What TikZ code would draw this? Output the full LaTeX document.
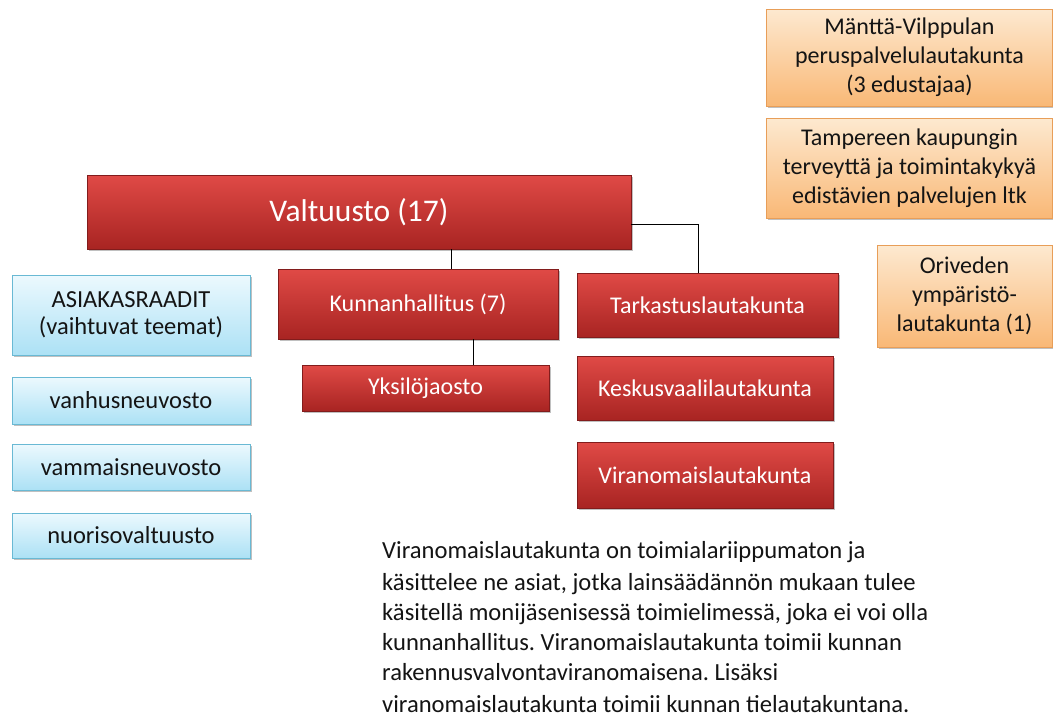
\documentclass[tikz,border=0pt]{standalone}
\usepackage{fontspec}
\setmainfont{Carlito}
\usetikzlibrary{shadows}
\frenchspacing
\definecolor{redtop}{RGB}{224,74,70}
\definecolor{redbot}{RGB}{168,36,34}
\definecolor{redline}{RGB}{130,28,28}
\definecolor{bluetop}{RGB}{236,249,254}
\definecolor{bluebot}{RGB}{172,225,245}
\definecolor{blueline}{RGB}{105,185,212}
\definecolor{ortop}{RGB}{253,233,208}
\definecolor{orbot}{RGB}{249,184,118}
\definecolor{orline}{RGB}{232,158,88}
\definecolor{txt}{RGB}{20,20,20}
\begin{document}
\begin{tikzpicture}[x=1pt,y=-1pt,
  boxbase/.style={inner sep=0pt, align=center, line width=0.7pt,
    drop shadow={shadow xshift=1.5pt, shadow yshift=-2pt, opacity=0.35, fill=black!70}},
  redbox/.style={boxbase, draw=redline, top color=redtop, bottom color=redbot,
    text=white, font=\fontsize{24}{28}\selectfont},
  bluebox/.style={boxbase, draw=blueline, top color=bluetop, bottom color=bluebot,
    text=txt, font=\fontsize{24.5}{27}\selectfont, minimum width=238pt},
  orbox/.style={boxbase, draw=orline, top color=ortop, bottom color=orbot,
    text=txt, font=\fontsize{24}{29}\selectfont},
  conn/.style={draw=black, line width=1pt},
  para/.style={anchor=base west, inner sep=0pt, text=txt, font=\fontsize{24.6}{30}\selectfont}
]
\useasboundingbox[fill=white] (0,0) rectangle (1053,718);

% red hierarchy
\node[redbox, minimum width=544pt, minimum height=74pt, font=\fontsize{31.5}{36}\selectfont] (valt) at (359,212) {Valtuusto (17)};
\node[redbox, minimum width=280pt, minimum height=70pt] (kh) at (418,304) {Kunnanhallitus (7)};
\node[redbox, minimum width=247pt, minimum height=46pt] (yks) at (425.5,388) {Yksilöjaosto};
\node[redbox, minimum width=261pt, minimum height=64pt] (tark) at (707.5,305) {Tarkastuslautakunta};
\node[redbox, minimum width=256pt, minimum height=64pt] (kesk) at (705,388) {Keskusvaalilautakunta};
\node[redbox, minimum width=256pt, minimum height=66pt] (vira) at (705,475) {Viranomaislautakunta};

% blue boxes
\node[bluebox, minimum height=80pt] (asia) at (131,315) {ASIAKASRAADIT\\(vaihtuvat teemat)};
\node[bluebox, minimum height=47pt] (vanh) at (131,400.5) {vanhusneuvosto};
\node[bluebox, minimum height=46pt] (vamm) at (131,467) {vammaisneuvosto};
\node[bluebox, minimum height=45pt] (nuor) at (131,535.5) {nuorisovaltuusto};

% orange boxes
\node[orbox, minimum width=286pt, minimum height=97pt] (mant) at (909.5,57.5) {Mänttä-Vilppulan\\peruspalvelulautakunta\\(3 edustajaa)};
\node[orbox, minimum width=286pt, minimum height=100pt] (tamp) at (909.5,168) {Tampereen kaupungin\\terveyttä ja toimintakykyä\\edistävien palvelujen ltk};
\node[orbox, minimum width=175pt, minimum height=102pt] (oriv) at (964.5,296) {Oriveden\\ympäristö-\\lautakunta (1)};

% connectors
\coordinate (kx) at (451,0);
\coordinate (yx) at (473,0);
\coordinate (tx) at (698,0);
\coordinate (ty) at (0,224);
\draw[conn] (valt.south -| kx) -- (kh.north -| kx);
\draw[conn] (kh.south -| yx) -- (yks.north -| yx);
\draw[conn] (valt.east |- ty) -| (tark.north -| tx);

% paragraph
\node[para] (p1) at (382,558) {Viranomaislautakunta on toimialariippumaton ja};
\node[para] (p2) at (382,590) {käsittelee ne asiat, jotka lainsäädännön mukaan tulee};
\node[para] (p3) at (382,620) {käsitellä monijäsenisessä toimielimessä, joka ei voi olla};
\node[para] (p4) at (382,650) {kunnanhallitus. Viranomaislautakunta toimii kunnan};
\node[para] (p5) at (382,680) {rakennusvalvontaviranomaisena. Lisäksi};
\node[para] (p6) at (382,712) {viranomaislautakunta toimii kunnan tielautakuntana.};
\end{tikzpicture}
\end{document}
